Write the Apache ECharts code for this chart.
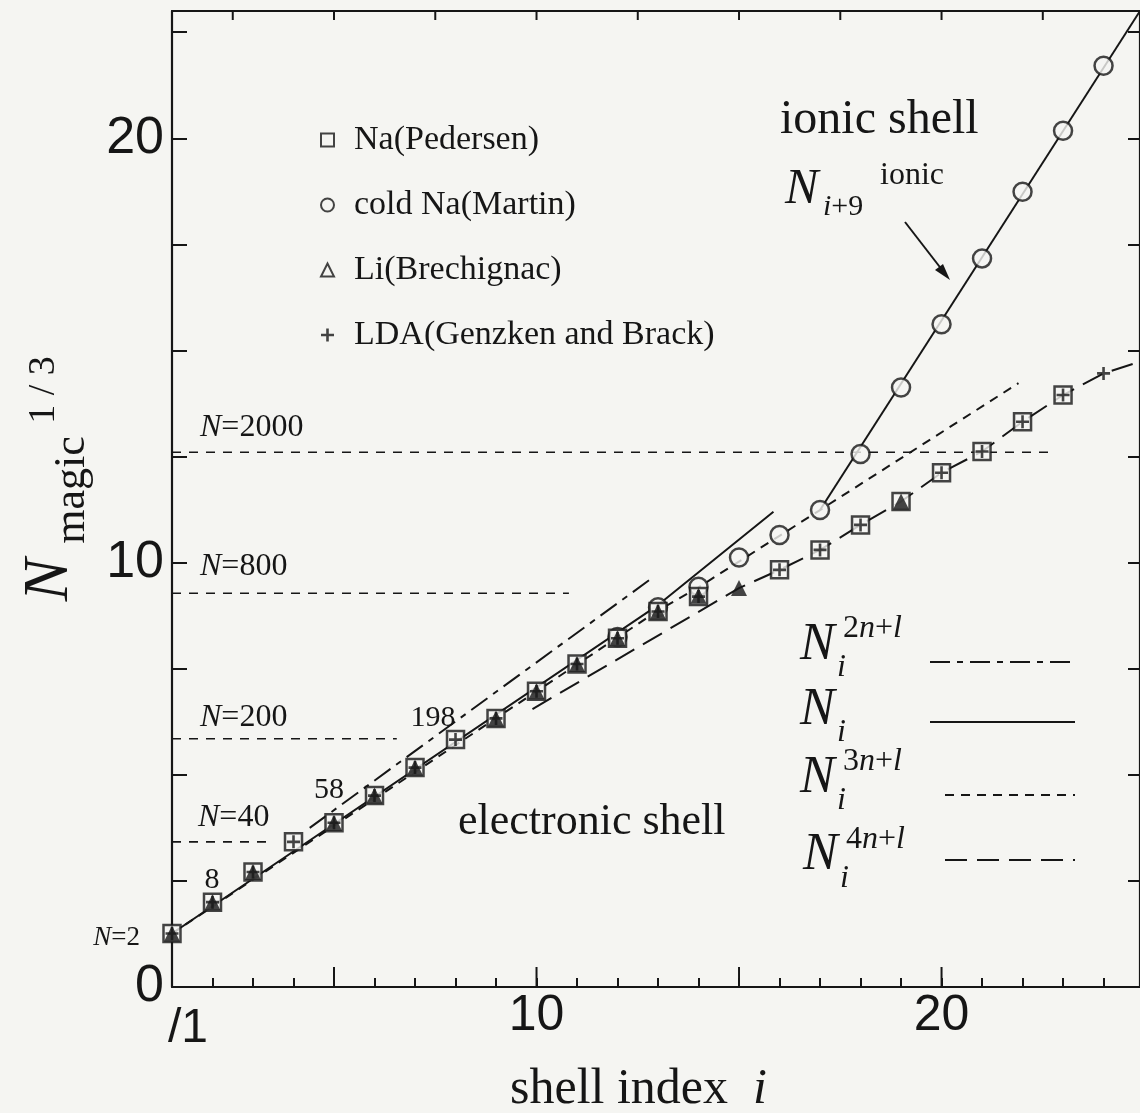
<!DOCTYPE html>
<html><head><meta charset="utf-8">
<script src="https://cdn.jsdelivr.net/npm/echarts@6/dist/echarts.min.js"></script>
<style>html,body{margin:0;padding:0;background:#f5f5f2}#c{width:1140px;height:1113px}</style>
</head><body><div id="c"></div>
<script>
// ---------------- data (y = N_magic^(1/3)) ----------------
const naPedersenI = [1,2,3,4,5,6,7,8,9,10,11,12,13,14,16,17,18,19,20,21,22,23];
const naPedersenV = [1.26,2.00,2.71,3.42,3.87,4.51,5.17,5.83,6.33,6.97,7.61,8.22,8.85,9.20,9.83,10.30,10.89,11.44,12.12,12.62,13.32,13.95];
const martinI = [12,13,14,15,16,17,18,19,20,21,22,23,24];
const martinV = [8.25,8.95,9.43,10.12,10.65,11.24,12.56,14.13,15.62,17.17,18.74,20.18,21.71];
const liI = [1,2,3,5,6,7,9,10,11,12,13,14,15,19];
const liV = [1.26,2.00,2.71,3.87,4.51,5.17,6.33,6.97,7.61,8.22,8.85,9.22,9.40,11.44];
const ldaI = [1,2,3,4,5,6,7,8,9,10,11,12,13,14,16,17,18,20,21,22,23,24];
const ldaV = [1.26,2.00,2.71,3.42,3.87,4.51,5.17,5.83,6.33,6.97,7.61,8.22,8.85,9.20,9.83,10.30,10.89,12.12,12.62,13.32,13.95,14.46];

// theoretical curves [i, N^(1/3)]
const curveNi    = [[1,1.26],[13,9.0],[15.85,11.2]];
const curve3nl   = [[1,1.26],[13,8.87],[14,9.42],[17,11.24],[21.9,14.23]];
const curve2nl   = [[4.4,3.75],[12.9,9.67]];
const curve4nl   = [[9.9,6.55],[15,9.40],[16,9.83],[17,10.30],[18,10.89],[19,11.44],[20,12.12],[21,12.62],[22,13.32],[23,13.95],[24,14.46],[24.85,14.72]];
const curveIonic = [[17,11.24],[24.9,23.0]];

// reference levels N = 2000, 800, 200, 40
const levelNames = ['2000','800','200','40'];
const levelValue = [12.6,9.28,5.85,3.42];
const levelEnd   = [22.8,10.8,6.55,3.5];

// axis ticks
const xTickLabels = [10,20];
const yTickLabels = [0,10,20];
const majorXTicks = [5,10,15,20];
const topTicks = [2.5,5,7.5,10,12.5,15,17.5,20,22.5];

// ---------------- style ----------------
const ink = '#161616';
const bg = '#f5f5f2';
const SERIF = "'Liberation Serif','DejaVu Serif',serif";
const SANS = "'Liberation Sans','DejaVu Sans',sans-serif";
const X_MIN = 1, X_MAX = 24.9, Y_MIN = 0, Y_MAX = 23;

const chart = echarts.init(document.getElementById('c'), null, {renderer:'canvas', width:1140, height:1113});

function pairs(I, V){ return I.map((x,k)=>[x, V[k]]); }
function curve(data, type, width){
  return {type:'line', data, symbol:'none', silent:true, z:2, animation:false, clip:true,
          lineStyle:{color:ink, width:width||2, type}};
}
function tickSeries(data, len, dir, yAxisVal){
  return {type:'custom', silent:true, clip:false, z:6, animation:false,
    data: data.map(v=>[v, yAxisVal]),
    renderItem:(params, api)=>{
      const p = api.coord([api.value(0), api.value(1)]);
      return {type:'line', shape:{x1:p[0], y1:p[1], x2:p[0], y2:p[1]+dir*len},
              style:{stroke:ink, lineWidth:2}};
    }};
}
function txt(x, y, text, size, o){
  o = o || {};
  const font = (o.italic?'italic ':'') + size + 'px ' + (o.family||SERIF);
  const st = {text, font, fill:ink, align:o.align||'left', textAlign:o.align||'left',
              verticalAlign:'middle', textVerticalAlign:'middle'};
  if (o.rich) st.rich = o.rich;
  return {type:'text', x, y, rotation:o.rot||0, silent:true, z:20, style:st};
}
function rich(size){
  return {it:{font:'italic '+size+'px '+SERIF, fill:ink}, r:{font:size+'px '+SERIF, fill:ink}};
}

const series = [];
levelValue.forEach((v,k)=>{
  series.push(curve([[X_MIN, v],[levelEnd[k], v]], [9,8], 1.6));
});
series.push(curve(curveNi, 'solid', 2));
series.push(curve(curve3nl, [9,7], 2));
series.push(curve(curve2nl, [20,7,6,7], 2));
series.push(curve(curve4nl, [22,10], 2));
series.push(curve(curveIonic, 'solid', 2));

const openStyle = {color:bg, borderColor:ink, borderWidth:2.5};
series.push({name:'cold Na(Martin)', type:'scatter', data:pairs(martinI, martinV), symbol:'circle', symbolSize:18, itemStyle:openStyle, z:4, animation:false});
series.push({name:'Na(Pedersen)', type:'scatter', data:pairs(naPedersenI, naPedersenV), symbol:'rect', symbolSize:17, itemStyle:openStyle, z:5, animation:false});
series.push({name:'Li(Brechignac)', type:'scatter', data:pairs(liI, liV), symbol:'triangle', symbolSize:16, itemStyle:{color:ink}, z:6, animation:false});
series.push({name:'LDA(Genzken and Brack)', type:'scatter', data:pairs(ldaI, ldaV), symbol:'path://M4,0H6V10H4ZM0,4H10V6H0Z', symbolSize:13, itemStyle:{color:ink}, z:7, animation:false});

series.push(tickSeries(majorXTicks, 20, -1, Y_MIN));
series.push(tickSeries(topTicks, 9, 1, Y_MAX));

const legendIconStyle = {color:'rgba(0,0,0,0)', borderColor:ink, borderWidth:2};
const graphics = [
  txt(168, 1029, '/1', 48, {family:SANS}),
  txt(50, 580, 'N', 64, {italic:true, rot:Math.PI/2, align:'center'}),
  txt(72, 490, 'magic', 44, {rot:Math.PI/2, align:'center'}),
  txt(44, 390, '1 / 3', 38, {rot:Math.PI/2, align:'center'}),
  txt(510, 1090, '{r|shell index  }{it|i}', 50, {rich:rich(50)}),
  txt(200, 428, '{it|N}{r|=2000}', 32, {rich:rich(32)}),
  txt(200, 567, '{it|N}{r|=800}', 32, {rich:rich(32)}),
  txt(200, 718, '{it|N}{r|=200}', 32, {rich:rich(32)}),
  txt(198, 818, '{it|N}{r|=40}', 32, {rich:rich(32)}),
  txt(140, 938, '{it|N}{r|=2}', 27, {rich:rich(27), align:'right'}),
  txt(212, 880, '8', 30, {align:'center'}),
  txt(329, 790, '58', 30, {align:'center'}),
  txt(433, 718, '198', 30, {align:'center'}),
  txt(458, 822, 'electronic shell', 44),
  txt(780, 120, 'ionic shell', 48),
  txt(785, 190, 'N', 50, {italic:true}),
  txt(823, 207, '{it|i}{r|+9}', 30, {rich:rich(30)}),
  txt(880, 176, 'ionic', 32),
  {type:'line', silent:true, z:20, shape:{x1:905, y1:222, x2:946, y2:275}, style:{stroke:ink, lineWidth:2}},
  {type:'polygon', silent:true, z:20, shape:{points:[[950,280],[935,270],[943,264]]}, style:{fill:ink}},
  // right legend of curves
  txt(800, 645, 'N', 52, {italic:true}),
  txt(843, 629, '{r|2}{it|n}{r|+}{it|l}', 32, {rich:rich(32)}),
  txt(837, 668, 'i', 32, {italic:true}),
  {type:'line', silent:true, z:20, shape:{x1:930, y1:662, x2:1077, y2:662}, style:{stroke:ink, lineWidth:2, lineDash:[20,7,6,7]}},
  txt(800, 710, 'N', 52, {italic:true}),
  txt(837, 733, 'i', 32, {italic:true}),
  {type:'line', silent:true, z:20, shape:{x1:930, y1:722, x2:1075, y2:722}, style:{stroke:ink, lineWidth:2}},
  txt(800, 778, 'N', 52, {italic:true}),
  txt(843, 762, '{r|3}{it|n}{r|+}{it|l}', 32, {rich:rich(32)}),
  txt(837, 801, 'i', 32, {italic:true}),
  {type:'line', silent:true, z:20, shape:{x1:945, y1:795, x2:1075, y2:795}, style:{stroke:ink, lineWidth:2, lineDash:[9,7]}},
  txt(803, 855, 'N', 52, {italic:true}),
  txt(846, 840, '{r|4}{it|n}{r|+}{it|l}', 32, {rich:rich(32)}),
  txt(840, 879, 'i', 32, {italic:true}),
  {type:'line', silent:true, z:20, shape:{x1:945, y1:860, x2:1075, y2:860}, style:{stroke:ink, lineWidth:2, lineDash:[22,10]}}
];

const option = {
  backgroundColor: bg,
  animation: false,
  grid: {left:172, right:0, top:11, bottom:126, containLabel:false, outerBoundsMode:'none', show:false},
  legend: {
    orient:'vertical', left:315, top:118, itemWidth:13, itemHeight:13, itemGap:31, selectedMode:false,
    textStyle:{fontFamily:SERIF, fontSize:34, color:ink, lineHeight:34, padding:[0,0,0,15]},
    data:[
      {name:'Na(Pedersen)', icon:'rect', itemStyle:legendIconStyle},
      {name:'cold Na(Martin)', icon:'circle', itemStyle:legendIconStyle},
      {name:'Li(Brechignac)', icon:'triangle', itemStyle:legendIconStyle},
      {name:'LDA(Genzken and Brack)', icon:'path://M4,0H6V10H4ZM0,4H10V6H0Z', itemStyle:{color:ink, borderWidth:0}}
    ]
  },
  xAxis: [
    {type:'value', position:'bottom', min:X_MIN, max:X_MAX, interval:1,
     axisLine:{show:true, onZero:false, lineStyle:{color:ink, width:2.2}},
     axisTick:{show:true, inside:true, length:9, lineStyle:{color:ink, width:2}},
     splitLine:{show:false},
     axisLabel:{show:true, margin:4, fontFamily:SANS, fontSize:50, color:ink,
                formatter:v=> xTickLabels.includes(v) ? String(v) : ''}},
    {type:'value', position:'top', min:X_MIN, max:X_MAX,
     axisLine:{show:true, onZero:false, lineStyle:{color:ink, width:2.2}},
     axisTick:{show:false}, axisLabel:{show:false}, splitLine:{show:false}}
  ],
  yAxis: [
    {type:'value', position:'left', min:Y_MIN, max:Y_MAX, interval:2.5,
     axisLine:{show:true, onZero:false, lineStyle:{color:ink, width:2.2}},
     axisTick:{show:true, inside:true, length:15, lineStyle:{color:ink, width:2}},
     splitLine:{show:false},
     axisLabel:{show:true, margin:8, fontFamily:SANS, fontSize:52, color:ink,
                formatter:v=> yTickLabels.includes(v) ? String(v) : ''}},
    {type:'value', position:'right', min:Y_MIN, max:Y_MAX, interval:2.5,
     axisLine:{show:true, onZero:false, lineStyle:{color:ink, width:2.2}},
     axisTick:{show:true, inside:true, length:12, lineStyle:{color:ink, width:2}},
     axisLabel:{show:false}, splitLine:{show:false}}
  ],
  series,
  graphic: graphics
};
chart.setOption(option);
</script></body></html>
